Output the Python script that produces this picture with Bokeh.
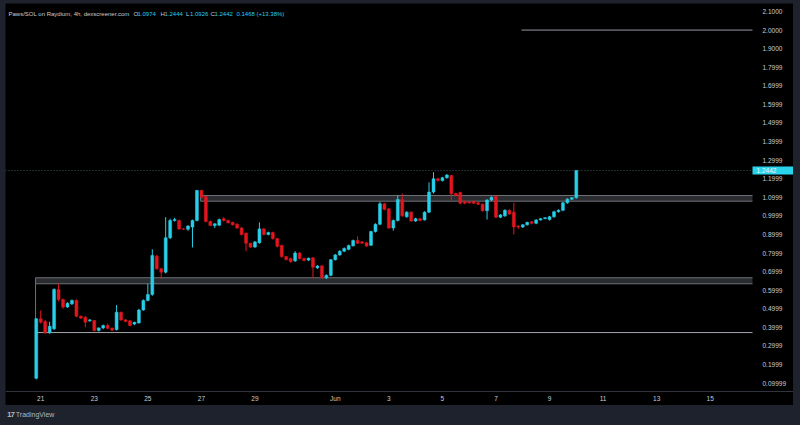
from bokeh.plotting import figure
from bokeh.models import ColumnDataSource, FixedTicker, Label, Div, Range1d, LinearAxis
from bokeh.core.properties import value
from bokeh.layouts import column
from bokeh.embed import file_html
from bokeh.resources import INLINE

# ---------------- data ----------------
# 4h candles of PAWS/SOL; time measured in "day of May" (Jun 1 = 32)
START_DAY = 20 + 20 / 24   # May 20, 20:00
STEP_DAYS = 4 / 24

opens = [0.126, 0.446, 0.431, 0.371, 0.392, 0.604, 0.550, 0.509, 0.527, 0.545,
         0.460, 0.455, 0.435, 0.437, 0.383, 0.397, 0.410, 0.395, 0.388, 0.481,
         0.440, 0.435, 0.418, 0.424, 0.493, 0.545, 0.577, 0.783, 0.715, 0.697,
         0.882, 0.975, 0.975, 0.930, 0.928, 0.940, 0.975, 1.137, 1.104, 0.970,
         0.948, 0.950, 0.985, 0.975, 0.965, 0.955, 0.935, 0.907, 0.853, 0.832,
         0.855, 0.930, 0.900, 0.910, 0.878, 0.840, 0.781, 0.770, 0.758, 0.800,
         0.770, 0.762, 0.774, 0.720, 0.731, 0.667, 0.680, 0.764, 0.790, 0.810,
         0.820, 0.839, 0.868, 0.860, 0.855, 0.842, 0.916, 0.955, 1.065, 1.038,
         0.935, 0.975, 1.088, 0.995, 1.020, 0.972, 0.985, 0.978, 1.020, 1.128,
         1.200, 1.190, 1.205, 1.217, 1.120, 1.126, 1.078, 1.075, 1.078, 1.070,
         1.063, 1.028, 1.085, 1.106, 0.993, 1.000, 1.030, 1.020, 0.945, 0.940,
         0.952, 0.968, 0.960, 0.978, 0.985, 0.980, 0.995, 1.022, 1.030, 1.070,
         1.090, 1.0974]
highs = [0.450, 0.491, 0.440, 0.430, 0.610, 0.634, 0.555, 0.535, 0.550, 0.550,
         0.465, 0.460, 0.445, 0.440, 0.400, 0.415, 0.420, 0.400, 0.520, 0.485,
         0.445, 0.440, 0.430, 0.500, 0.550, 0.634, 0.820, 0.790, 0.720, 0.993,
         0.985, 0.990, 0.980, 0.935, 0.950, 0.980, 1.140, 1.140, 1.105, 0.975,
         0.960, 0.985, 0.993, 0.980, 0.968, 0.960, 0.940, 0.910, 0.855, 0.865,
         0.965, 0.935, 0.915, 0.915, 0.880, 0.845, 0.785, 0.775, 0.810, 0.805,
         0.775, 0.775, 0.778, 0.735, 0.735, 0.685, 0.768, 0.795, 0.815, 0.830,
         0.845, 0.872, 0.890, 0.865, 0.860, 0.920, 0.960, 1.075, 1.070, 1.040,
         0.980, 1.110, 1.120, 1.025, 1.025, 0.990, 0.990, 1.025, 1.180, 1.235,
         1.205, 1.210, 1.225, 1.220, 1.125, 1.130, 1.082, 1.080, 1.082, 1.075,
         1.067, 1.090, 1.105, 1.110, 1.010, 1.035, 1.035, 1.070, 0.950, 0.955,
         0.968, 0.972, 0.982, 0.988, 0.993, 1.000, 1.027, 1.035, 1.075, 1.095,
         1.100, 1.2444]
lows = [0.120, 0.420, 0.365, 0.365, 0.385, 0.540, 0.500, 0.505, 0.520, 0.455,
        0.445, 0.400, 0.430, 0.378, 0.378, 0.390, 0.390, 0.380, 0.383, 0.435,
        0.428, 0.405, 0.412, 0.420, 0.490, 0.540, 0.570, 0.710, 0.660, 0.690,
        0.875, 0.970, 0.925, 0.925, 0.920, 0.830, 0.970, 1.095, 0.965, 0.945,
        0.935, 0.945, 0.970, 0.960, 0.948, 0.930, 0.895, 0.810, 0.828, 0.828,
        0.850, 0.895, 0.895, 0.872, 0.830, 0.775, 0.760, 0.748, 0.752, 0.765,
        0.755, 0.758, 0.665, 0.715, 0.660, 0.660, 0.675, 0.760, 0.785, 0.805,
        0.815, 0.835, 0.850, 0.850, 0.833, 0.838, 0.910, 0.950, 1.030, 0.930,
        0.920, 0.970, 0.995, 0.990, 0.968, 0.968, 0.970, 0.975, 1.015, 1.120,
        1.185, 1.185, 1.200, 1.085, 1.105, 1.063, 1.063, 1.065, 1.063, 1.058,
        1.023, 0.980, 1.080, 0.988, 0.988, 0.995, 1.005, 0.900, 0.930, 0.935,
        0.948, 0.955, 0.955, 0.975, 0.982, 0.975, 0.990, 1.018, 1.025, 1.065,
        1.085, 1.0926]
closes = [0.446, 0.428, 0.371, 0.406, 0.604, 0.550, 0.509, 0.530, 0.545, 0.460,
          0.450, 0.428, 0.440, 0.383, 0.397, 0.410, 0.395, 0.385, 0.481, 0.440,
          0.432, 0.410, 0.427, 0.493, 0.545, 0.577, 0.787, 0.715, 0.697, 0.882,
          0.975, 0.980, 0.930, 0.928, 0.945, 0.975, 1.137, 1.100, 0.970, 0.948,
          0.957, 0.980, 0.975, 0.962, 0.952, 0.935, 0.900, 0.853, 0.832, 0.860,
          0.930, 0.900, 0.910, 0.878, 0.836, 0.781, 0.765, 0.753, 0.800, 0.770,
          0.760, 0.772, 0.724, 0.730, 0.667, 0.680, 0.764, 0.790, 0.810, 0.825,
          0.840, 0.868, 0.853, 0.853, 0.838, 0.916, 0.955, 1.065, 1.035, 0.935,
          0.975, 1.088, 1.000, 1.020, 0.972, 0.985, 0.975, 1.020, 1.128, 1.200,
          1.190, 1.205, 1.220, 1.119, 1.110, 1.068, 1.068, 1.070, 1.068, 1.063,
          1.028, 1.085, 1.100, 0.993, 1.005, 1.030, 1.010, 0.940, 0.940, 0.952,
          0.965, 0.960, 0.978, 0.985, 0.990, 0.995, 1.022, 1.030, 1.070, 1.090,
          1.0974, 1.2442]

x_tick_days = [21, 23, 25, 27, 29, 32, 34, 36, 38, 40, 42, 44, 46]
x_tick_labels = ["21", "23", "25", "27", "29", "Jun", "3", "5", "7", "9", "11", "13", "15"]

y_ticks = [2.1, 2.0, 1.9, 1.8, 1.7, 1.6, 1.5, 1.4, 1.3, 1.2, 1.1,
           1.0, 0.9, 0.8, 0.7, 0.6, 0.5, 0.4, 0.3, 0.2, 0.1]
y_tick_labels = ["2.1000", "2.0000", "1.9000", "1.7999", "1.6999", "1.5999", "1.4999",
                 "1.3999", "1.2999", "1.1999", "1.0999", "0.9999", "0.8999", "0.7999",
                 "0.6999", "0.5999", "0.4999", "0.3999", "0.2999", "0.1999", "0.09999"]

# drawn zones (left day, bottom price, top price)
zone_left = [20.807, 26.97]
zone_bottom = [0.6345, 1.079]
zone_top = [0.667, 1.1097]
range_left, range_bottom, range_top = 20.807, 0.372, 0.6345
level_left, level_price = 38.95, 2.0

last_price = 1.2442
header_main = "Paws/SOL on Raydium, 4h, dexscreener.com"
header_ohlc = [("O", "1.0974"), ("H", "1.2444"), ("L", "1.0926"), ("C", "1.2442")]
header_change = "0.1468 (+13.38%)"

# ---------------- style ----------------
UP = "#29cfe8"
DOWN = "#e3161f"
TXT = "#c9ccd4"
FONT = "Liberation Sans"
OUTER = "#1e222d"

n = len(opens)
xs = [START_DAY + i * STEP_DAYS for i in range(n)]
colors = [UP if c >= o else DOWN for o, c in zip(opens, closes)]
src = ColumnDataSource(dict(
    x=xs, o=opens, h=highs, l=lows, c=closes,
    top=[max(o, c) for o, c in zip(opens, closes)],
    bottom=[min(o, c) for o, c in zip(opens, closes)],
    color=colors,
))

PX_PER_DAY = 26.78
PX_PER_UNIT = 185.8
X0 = 19.685                      # left edge of panel
XA = X0 + 747 / PX_PER_DAY       # price-scale boundary
X1 = X0 + 788 / PX_PER_DAY       # right edge of panel
Y1 = 2.143                       # top edge of panel
Y0 = Y1 - 402 / PX_PER_UNIT      # bottom edge of panel
YA = Y1 - 388 / PX_PER_UNIT      # time-scale boundary (separator line)
YL = Y1 - 381 / PX_PER_UNIT      # anchor for the time-scale labels

p = figure(width=788, height=402, x_range=Range1d(X0, X1), y_range=Range1d(Y0, Y1),
           output_backend="svg", toolbar_location=None,
           x_axis_location=None, y_axis_location=None,
           min_border_left=0, min_border_right=0, min_border_top=0, min_border_bottom=0,
           background_fill_color="black", border_fill_color="black",
           outline_line_color=None, margin=(3, 7, 0, 5))
p.grid.visible = False

# range outline (left + bottom edge only, open to the right)
p.segment(x0=[range_left, range_left], y0=[range_bottom, range_bottom],
          x1=[range_left, XA], y1=[range_top, range_bottom],
          line_color=["#6e717a", "#a3a6ae"], line_width=1)
# zones: fill + edges (open to the right)
p.quad(left=zone_left, right=[XA] * len(zone_left), bottom=zone_bottom, top=zone_top,
       fill_color="#2b2c30", line_color=None)
p.segment(x0=zone_left + zone_left, y0=zone_bottom + zone_top,
          x1=[XA] * 4, y1=zone_bottom + zone_top, line_color="#6e717a", line_width=1)
p.segment(x0=zone_left, y0=zone_bottom, x1=zone_left, y1=zone_top,
          line_color="#6e717a", line_width=1)
p.segment(x0=[level_left], y0=[level_price], x1=[XA], y1=[level_price],
          line_color="#9598a1", line_width=1)
p.segment(x0=[X0], y0=[last_price], x1=[XA], y1=[last_price],
          line_color="#3f5a62", line_dash="1 2", line_width=1)
# time-scale separator
p.segment(x0=[X0], y0=[YA], x1=[X1], y1=[YA], line_color="#30343f", line_width=1)

# candles
p.segment(x0="x", y0="h", x1="x", y1="l", line_color="color", line_width=1, source=src)
p.vbar(x="x", width=0.11, top="top", bottom="bottom", fill_color="color",
       line_color="color", line_width=0.5, source=src)

# time scale, pinned inside the panel
xa = LinearAxis(fixed_location=YL, ticker=FixedTicker(ticks=x_tick_days),
                major_label_overrides={d: s for d, s in zip(x_tick_days, x_tick_labels)},
                axis_line_color=None, major_tick_line_color=None,
                minor_tick_line_color=None, major_label_standoff=4,
                major_label_text_font_size="6.5px", major_label_text_color=TXT,
                major_label_text_font=FONT)
p.add_layout(xa, "below")

# price scale, pinned at the price-scale boundary inside the panel
ya = LinearAxis(fixed_location=XA, ticker=FixedTicker(ticks=y_ticks),
                major_label_overrides={v: s for v, s in zip(y_ticks, y_tick_labels)},
                axis_line_color=None, major_tick_line_color=None, minor_tick_line_color=None,
                major_label_standoff=4, major_label_text_font_size="6.5px",
                major_label_text_color=TXT, major_label_text_font=FONT)
p.add_layout(ya, "right")

# last price tag
half = 4 / PX_PER_UNIT
p.quad(left=[XA], right=[X1], bottom=[last_price - half], top=[last_price + half],
       fill_color="#2ad3ec", line_color=None)
p.text(x=[XA], y=[last_price], text=[f"{last_price:.4f}"], x_offset=4,
       text_font=value(FONT), text_font_size="6.5px", text_color="#eef6f8",
       text_baseline="middle", text_align="left")

# header legend
hy = 2.0876
HF = "6px"
p.add_layout(Label(x=X0, y=hy, x_offset=3, text=header_main, text_font_size=HF,
                   text_font=FONT, text_color=TXT, text_baseline="middle"))
offs = [128, 155, 180.5, 205]
for (k, v), off in zip(header_ohlc, offs):
    p.add_layout(Label(x=X0, y=hy, x_offset=off, text=k, text_font_size=HF,
                       text_font=FONT, text_color=TXT, text_baseline="middle"))
    p.add_layout(Label(x=X0, y=hy, x_offset=off + 4, text=v, text_font_size=HF,
                       text_font=FONT, text_color=UP, text_baseline="middle"))
p.add_layout(Label(x=X0, y=hy, x_offset=231, text=header_change, text_font_size=HF,
                   text_font=FONT, text_color=UP, text_baseline="middle"))

footer = Div(text='<span style="font-weight:900;font-size:8px;letter-spacing:-1px">17</span>&nbsp;TradingView',
             width=200, height=20, margin=(0, 0, 0, 7),
             styles={"color": "#b2b5be", "font-size": "7px", "font-family": FONT,
                     "line-height": "20px"})

root = column(p, footer, width=800, height=425, spacing=0,
              styles={"background-color": OUTER})

open("out.html", "w").write(file_html(root, INLINE))
